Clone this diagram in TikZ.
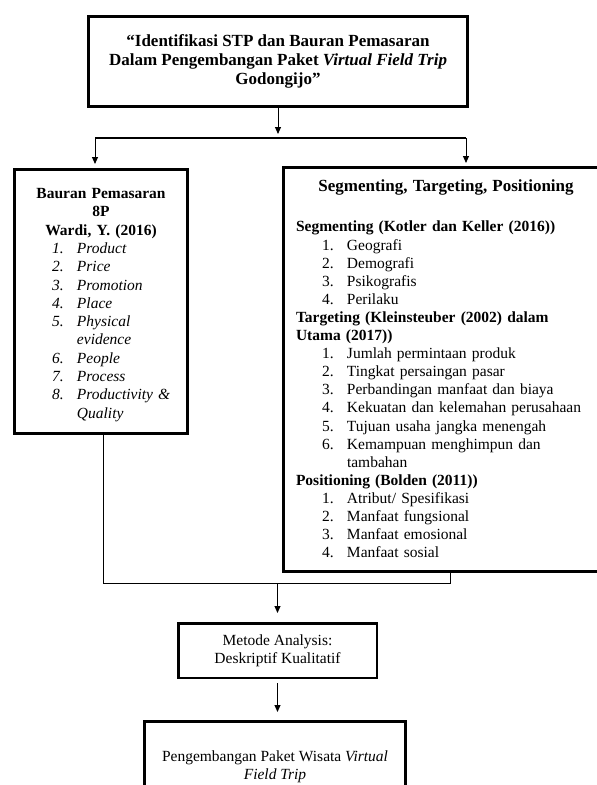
\documentclass[tikz,border=0pt]{standalone}
\usepackage{fontspec}
\setmainfont{Liberation Serif}
\usetikzlibrary{positioning,arrows.meta,calc}
\tikzset{block/.style={rectangle, draw=black, line width=3pt,
    align=center, inner sep=0pt, font=\fontsize{15.5}{18.3}\selectfont},
  myarrow/.style={-{Triangle[length=7pt,width=6pt]}, line width=1pt},
  line/.style={-, line width=1pt}
}
\newcommand{\numitem}[2]{\par\noindent\hspace*{26pt}\makebox[25pt][l]{#1}#2}
\newcommand{\numcont}[1]{\par\noindent\hspace*{51pt}#1}
\newcommand{\subhead}[1]{\par\noindent\textbf{#1}}

\begin{document}
\begin{tikzpicture}[x=1pt,y=-1pt]
\useasboundingbox (0,0) rectangle (597,785);

   %Title node
   \node (title) [block, minimum width=379pt, minimum height=90pt,
     font=\fontsize{17}{19}\selectfont\bfseries] at (278,61)
   {
      “Identifikasi STP dan Bauran Pemasaran\\
      Dalam Pengembangan Paket \textit{Virtual Field Trip}\\
      Godongijo”
   };
   %Bauran node
   \node (bauran) [block, minimum width=173pt, minimum height=264pt,
     text width=150pt, align=left] at (101,301.5)
   {
      {\centering\bfseries\rule{0pt}{17pt}Bauran Pemasaran\\ 8P\\ Wardi, Y. (2016)\par}
      \itshape
      \numitem{1.}{Product}
      \numitem{2.}{Price}
      \numitem{3.}{Promotion}
      \numitem{4.}{Place}
      \numitem{5.}{Physical}
      \numcont{evidence}
      \numitem{6.}{People}
      \numitem{7.}{Process}
      \numitem{8.}{Productivity \&}
      \numcont{Quality}
   };
   %STP node, its right side lies past the page
   \node (stp) [block, draw=none, minimum width=353pt, minimum height=401pt,
     text width=330pt, align=left, font=\fontsize{15.5}{18.1}\selectfont] at (461,369)
   {
      \noindent\makebox[300pt][c]{\fontsize{17}{20}\selectfont\bfseries Segmenting, Targeting, Positioning}\par
      \vspace{22pt}
      \subhead{Segmenting (Kotler dan Keller (2016))}
      \numitem{1.}{Geografi}
      \numitem{2.}{Demografi}
      \numitem{3.}{Psikografis}
      \numitem{4.}{Perilaku}
      \subhead{Targeting (Kleinsteuber (2002) dalam}
      \subhead{Utama (2017))}
      \numitem{1.}{Jumlah permintaan produk}
      \numitem{2.}{Tingkat persaingan pasar}
      \numitem{3.}{Perbandingan manfaat dan biaya}
      \numitem{4.}{Kekuatan dan kelemahan perusahaan}
      \numitem{5.}{Tujuan usaha jangka menengah}
      \numitem{6.}{Kemampuan menghimpun dan}
      \numcont{tambahan}
      \subhead{Positioning (Bolden (2011))}
      \numitem{1.}{Atribut/ Spesifikasi}
      \numitem{2.}{Manfaat fungsional}
      \numitem{3.}{Manfaat emosional}
      \numitem{4.}{Manfaat sosial}
   };
   \draw [line width=3pt] (stp.north east) -- (stp.north west)
     -- (stp.south west) -- (stp.south east);
   %Metode node
   \node (metode) [block, line width=2.5pt, minimum width=198.5pt,
     minimum height=54.5pt] at (277.5,650.5)
   {
      Metode Analysis:\\ Deskriptif Kualitatif
   };
   %Result node
   \node (result) [block, minimum width=261pt, minimum height=91pt] at (275,767)
   {
      Pengembangan Paket Wisata \textit{Virtual}\\ \textit{Field Trip}
   };

\coordinate (splitL) at (95,138);
\coordinate (splitR) at (466,138);
\coordinate (joinL) at (103,583);
\coordinate (joinR) at (450,583);

\draw [myarrow, shorten >=4pt] (title.south) -- (title.south |- splitL);
\draw [line, line width=2pt] (splitL) -- (splitR);
\draw [myarrow, shorten >=4pt] (splitL) -- (splitL |- bauran.north);
\draw [myarrow, shorten >=4pt] (splitR) -- (splitR |- stp.north);
\draw [line] (bauran.south -| joinL) -- (joinL) -- (joinR) -- (stp.south -| joinR);
\draw [myarrow, shorten >=9pt] (metode.north |- joinL) -- (metode.north);
\draw [myarrow, shorten <=4pt, shorten >=8pt] (metode.south) -- (result.north -| metode.south);

\end{tikzpicture}
\end{document}
